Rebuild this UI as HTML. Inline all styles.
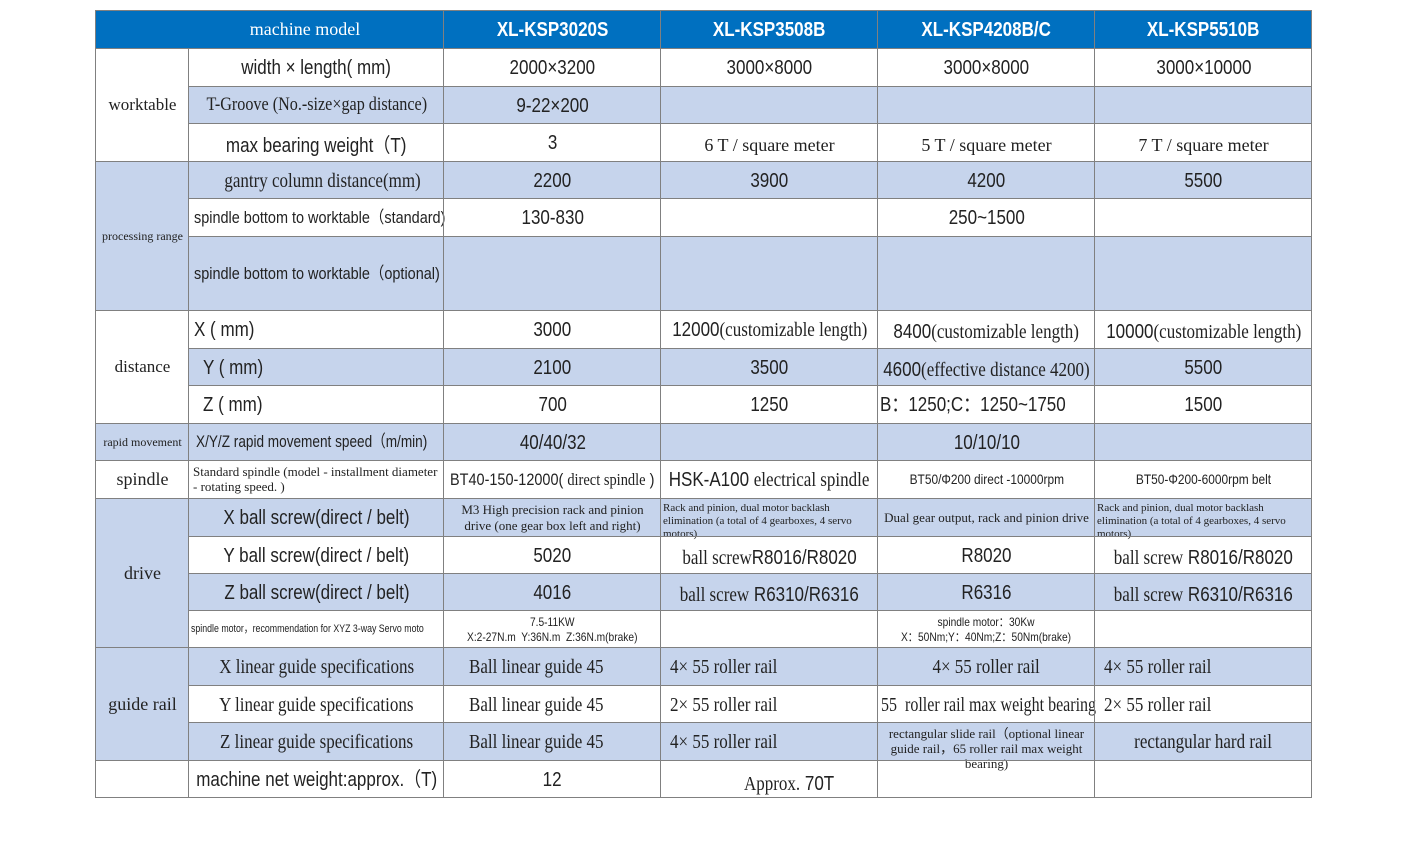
<!DOCTYPE html>
<html><head><meta charset="utf-8"><style>
body{margin:0;width:1407px;height:846px;background:#fff;position:relative;overflow:hidden}
.c{position:absolute;box-sizing:border-box;border-left:1px solid #808080;border-top:1px solid #808080;display:flex;align-items:center;justify-content:center;text-align:center;color:#222;font-family:"Liberation Sans Narrow","Liberation Sans",sans-serif;font-size:20px;line-height:1.1;white-space:nowrap;overflow:visible}
.s{font-family:"Liberation Serif",serif;font-size:17px}
.sm{font-size:13px;font-family:"Liberation Serif",serif;white-space:normal;line-height:1.2}
.b{background:#c6d4ec}
.h{background:#0070c0;color:#fff;font-weight:bold;font-size:20px}
.l{justify-content:flex-start;padding-left:5px}
.n{display:inline-block;transform:scaleX(.85)}
.o{position:absolute;left:95px;top:10px;width:1217px;height:788px;border-right:1px solid #808080;border-bottom:1px solid #808080;box-sizing:border-box;z-index:5}
</style></head><body>

<div class="c h s" style="left:95px;top:10px;width:349px;height:39px;font-weight:normal;font-size:18px;padding-left:70px">machine model</div>
<div class="c h" style="left:443px;top:10px;width:218px;height:39px"><span class="n">XL-KSP3020S</span></div>
<div class="c h" style="left:660px;top:10px;width:218px;height:39px"><span class="n">XL-KSP3508B</span></div>
<div class="c h" style="left:877px;top:10px;width:218px;height:39px"><span class="n">XL-KSP4208B/C</span></div>
<div class="c h" style="left:1094px;top:10px;width:218px;height:39px"><span class="n">XL-KSP5510B</span></div>

<div class="c s" style="left:95px;top:48px;width:94px;height:114px">worktable</div>
<div class="c b s" style="left:95px;top:161px;width:94px;height:150px;font-size:12px;padding-top:0">processing range</div>
<div class="c s" style="left:95px;top:310px;width:94px;height:114px">distance</div>
<div class="c b s" style="left:95px;top:423px;width:94px;height:38px;font-size:12px">rapid movement</div>
<div class="c s" style="left:95px;top:460px;width:94px;height:39px;font-size:18px">spindle</div>
<div class="c b s" style="left:95px;top:498px;width:94px;height:150px;font-size:18px">drive</div>
<div class="c b s" style="left:95px;top:647px;width:94px;height:114px;font-size:18px">guide rail</div>
<div class="c" style="left:95px;top:760px;width:94px;height:38px"></div>

<div class="c" style="left:188px;top:48px;width:256px;height:39px"><span class="n">width × length( mm)</span></div>
<div class="c" style="left:443px;top:48px;width:218px;height:39px"><span class="n">2000×3200</span></div>
<div class="c" style="left:660px;top:48px;width:218px;height:39px"><span class="n">3000×8000</span></div>
<div class="c" style="left:877px;top:48px;width:218px;height:39px"><span class="n">3000×8000</span></div>
<div class="c" style="left:1094px;top:48px;width:218px;height:39px"><span class="n">3000×10000</span></div>

<div class="c b s" style="left:188px;top:86px;width:256px;height:38px;font-size:19px"><span class="n">T-Groove (No.-size×gap distance)</span></div>
<div class="c b" style="left:443px;top:86px;width:218px;height:38px"><span class="n">9-22×200</span></div>
<div class="c b" style="left:660px;top:86px;width:218px;height:38px"></div>
<div class="c b" style="left:877px;top:86px;width:218px;height:38px"></div>
<div class="c b" style="left:1094px;top:86px;width:218px;height:38px"></div>

<div class="c" style="left:188px;top:123px;width:256px;height:39px;padding-top:6px"><span class="n">max bearing weight（T)</span></div>
<div class="c" style="left:443px;top:123px;width:218px;height:39px"><span class="n">3</span></div>
<div class="c s" style="left:660px;top:123px;width:218px;height:39px;padding-top:6px;font-size:18px">6 T / square meter</div>
<div class="c s" style="left:877px;top:123px;width:218px;height:39px;padding-top:6px;font-size:18px">5 T / square meter</div>
<div class="c s" style="left:1094px;top:123px;width:218px;height:39px;padding-top:6px;font-size:18px">7 T / square meter</div>

<div class="c b s" style="left:188px;top:161px;width:256px;height:38px;font-size:20px;padding-left:12px"><span class="n">gantry column distance(mm)</span></div>
<div class="c b" style="left:443px;top:161px;width:218px;height:38px"><span class="n">2200</span></div>
<div class="c b" style="left:660px;top:161px;width:218px;height:38px"><span class="n">3900</span></div>
<div class="c b" style="left:877px;top:161px;width:218px;height:38px"><span class="n">4200</span></div>
<div class="c b" style="left:1094px;top:161px;width:218px;height:38px"><span class="n">5500</span></div>

<div class="c l" style="left:188px;top:198px;width:256px;height:39px;font-size:17px"><span class="n" style="transform-origin:left">spindle bottom to worktable（standard)</span></div>
<div class="c" style="left:443px;top:198px;width:218px;height:39px"><span class="n">130-830</span></div>
<div class="c" style="left:660px;top:198px;width:218px;height:39px"></div>
<div class="c" style="left:877px;top:198px;width:218px;height:39px"><span class="n">250~1500</span></div>
<div class="c" style="left:1094px;top:198px;width:218px;height:39px"></div>

<div class="c b l" style="left:188px;top:236px;width:256px;height:75px;font-size:17px"><span class="n" style="transform-origin:left">spindle bottom to worktable（optional)</span></div>
<div class="c b" style="left:443px;top:236px;width:218px;height:75px"></div>
<div class="c b" style="left:660px;top:236px;width:218px;height:75px"></div>
<div class="c b" style="left:877px;top:236px;width:218px;height:75px"></div>
<div class="c b" style="left:1094px;top:236px;width:218px;height:75px"></div>

<div class="c l" style="left:188px;top:310px;width:256px;height:39px"><span class="n" style="transform-origin:left">X ( mm)</span></div>
<div class="c" style="left:443px;top:310px;width:218px;height:39px"><span class="n">3000</span></div>
<div class="c" style="left:660px;top:310px;width:218px;height:39px"><span class="n">12000<span style="font-family:'Liberation Serif',serif">(customizable length)</span></span></div>
<div class="c" style="left:877px;top:310px;width:218px;height:39px;padding-top:4px"><span class="n">8400<span style="font-family:'Liberation Serif',serif">(customizable length)</span></span></div>
<div class="c" style="left:1094px;top:310px;width:218px;height:39px;padding-top:4px"><span class="n">10000<span style="font-family:'Liberation Serif',serif">(customizable length)</span></span></div>

<div class="c b l" style="left:188px;top:348px;width:256px;height:38px;padding-left:14px"><span class="n" style="transform-origin:left">Y ( mm)</span></div>
<div class="c b" style="left:443px;top:348px;width:218px;height:38px"><span class="n">2100</span></div>
<div class="c b" style="left:660px;top:348px;width:218px;height:38px"><span class="n">3500</span></div>
<div class="c b" style="left:877px;top:348px;width:218px;height:38px;padding-top:4px"><span class="n">4600<span style="font-family:'Liberation Serif',serif">(effective distance 4200)</span></span></div>
<div class="c b" style="left:1094px;top:348px;width:218px;height:38px"><span class="n">5500</span></div>

<div class="c l" style="left:188px;top:385px;width:256px;height:39px;padding-left:14px"><span class="n" style="transform-origin:left">Z ( mm)</span></div>
<div class="c" style="left:443px;top:385px;width:218px;height:39px"><span class="n">700</span></div>
<div class="c" style="left:660px;top:385px;width:218px;height:39px"><span class="n">1250</span></div>
<div class="c l" style="left:877px;top:385px;width:218px;height:39px;padding-left:2px"><span class="n" style="transform-origin:left">B：1250;C：1250~1750</span></div>
<div class="c" style="left:1094px;top:385px;width:218px;height:39px"><span class="n">1500</span></div>

<div class="c b l" style="left:188px;top:423px;width:256px;height:38px;font-size:17px;padding-left:7px"><span class="n" style="transform-origin:left;transform:scaleX(.8)">X/Y/Z rapid movement speed（m/min)</span></div>
<div class="c b" style="left:443px;top:423px;width:218px;height:38px"><span class="n">40/40/32</span></div>
<div class="c b" style="left:660px;top:423px;width:218px;height:38px"></div>
<div class="c b" style="left:877px;top:423px;width:218px;height:38px"><span class="n">10/10/10</span></div>
<div class="c b" style="left:1094px;top:423px;width:218px;height:38px"></div>

<div class="c sm l" style="left:188px;top:460px;width:256px;height:39px;text-align:left;line-height:1.15;padding-left:4px">Standard spindle (model - installment diameter - rotating speed. )</div>
<div class="c" style="left:443px;top:460px;width:218px;height:39px;font-size:17px"><span class="n">BT40-150-12000( <span style="font-family:'Liberation Serif',serif">direct spindle</span> )</span></div>
<div class="c" style="left:660px;top:460px;width:218px;height:39px"><span class="n">HSK-A100 <span style="font-family:'Liberation Serif',serif">electrical spindle</span></span></div>
<div class="c" style="left:877px;top:460px;width:218px;height:39px;font-size:14px"><span class="n">BT50/Φ200 direct -10000rpm</span></div>
<div class="c" style="left:1094px;top:460px;width:218px;height:39px;font-size:14px"><span class="n">BT50-Φ200-6000rpm belt</span></div>

<div class="c b" style="left:188px;top:498px;width:256px;height:39px"><span class="n">X ball screw(direct / belt)</span></div>
<div class="c b sm" style="left:443px;top:498px;width:218px;height:39px;padding:0 6px">M3 High precision rack and pinion drive (one gear box left and right)</div>
<div class="c b sm" style="left:660px;top:498px;width:218px;height:39px;font-size:11px;text-align:left;align-items:flex-start;padding:3px 2px 0">Rack and pinion, dual motor backlash elimination (a total of 4 gearboxes, 4 servo motors)</div>
<div class="c b sm" style="left:877px;top:498px;width:218px;height:39px">Dual gear output, rack and pinion drive</div>
<div class="c b sm" style="left:1094px;top:498px;width:218px;height:39px;font-size:11px;text-align:left;align-items:flex-start;padding:3px 2px 0">Rack and pinion, dual motor backlash elimination (a total of 4 gearboxes, 4 servo motors)</div>

<div class="c" style="left:188px;top:536px;width:256px;height:38px"><span class="n">Y ball screw(direct / belt)</span></div>
<div class="c" style="left:443px;top:536px;width:218px;height:38px"><span class="n">5020</span></div>
<div class="c" style="left:660px;top:536px;width:218px;height:38px;padding-top:4px"><span class="n"><span style="font-family:'Liberation Serif',serif">ball screw</span>R8016/R8020</span></div>
<div class="c" style="left:877px;top:536px;width:218px;height:38px"><span class="n">R8020</span></div>
<div class="c" style="left:1094px;top:536px;width:218px;height:38px;padding-top:4px"><span class="n"><span style="font-family:'Liberation Serif',serif">ball screw</span> R8016/R8020</span></div>

<div class="c b" style="left:188px;top:573px;width:256px;height:38px"><span class="n">Z ball screw(direct / belt)</span></div>
<div class="c b" style="left:443px;top:573px;width:218px;height:38px"><span class="n">4016</span></div>
<div class="c b" style="left:660px;top:573px;width:218px;height:38px;padding-top:4px"><span class="n"><span style="font-family:'Liberation Serif',serif">ball screw</span> R6310/R6316</span></div>
<div class="c b" style="left:877px;top:573px;width:218px;height:38px"><span class="n">R6316</span></div>
<div class="c b" style="left:1094px;top:573px;width:218px;height:38px;padding-top:4px"><span class="n"><span style="font-family:'Liberation Serif',serif">ball screw</span> R6310/R6316</span></div>

<div class="c l" style="left:188px;top:610px;width:256px;height:38px;font-size:11px;padding-left:2px"><span class="n" style="transform-origin:left;transform:scaleX(.8)">spindle motor，recommendation for XYZ 3-way Servo moto</span></div>
<div class="c" style="left:443px;top:610px;width:218px;height:38px;font-size:12px;line-height:1.2"><span class="n">7.5-11KW<br>X:2-27N.m&nbsp; Y:36N.m&nbsp; Z:36N.m(brake)</span></div>
<div class="c" style="left:660px;top:610px;width:218px;height:38px"></div>
<div class="c" style="left:877px;top:610px;width:218px;height:38px;font-size:12px;line-height:1.2"><span class="n">spindle motor：30Kw<br>X：50Nm;Y：40Nm;Z：50Nm(brake)</span></div>
<div class="c" style="left:1094px;top:610px;width:218px;height:38px"></div>

<div class="c b s" style="left:188px;top:647px;width:256px;height:39px;font-size:20px"><span class="n">X linear guide specifications</span></div>
<div class="c b s l" style="left:443px;top:647px;width:218px;height:39px;font-size:20px;padding-left:25px"><span class="n" style="transform-origin:left">Ball linear guide 45</span></div>
<div class="c b s l" style="left:660px;top:647px;width:218px;height:39px;font-size:20px;padding-left:9px"><span class="n" style="transform-origin:left">4× 55 roller rail</span></div>
<div class="c b s" style="left:877px;top:647px;width:218px;height:39px;font-size:20px"><span class="n">4× 55 roller rail</span></div>
<div class="c b s l" style="left:1094px;top:647px;width:218px;height:39px;font-size:20px;padding-left:9px"><span class="n" style="transform-origin:left">4× 55 roller rail</span></div>

<div class="c s" style="left:188px;top:685px;width:256px;height:38px;font-size:20px"><span class="n">Y linear guide specifications</span></div>
<div class="c s l" style="left:443px;top:685px;width:218px;height:38px;font-size:20px;padding-left:25px"><span class="n" style="transform-origin:left">Ball linear guide 45</span></div>
<div class="c s l" style="left:660px;top:685px;width:218px;height:38px;font-size:20px;padding-left:9px"><span class="n" style="transform-origin:left">2× 55 roller rail</span></div>
<div class="c s l" style="left:877px;top:685px;width:218px;height:38px;font-size:20px;padding-left:3px"><span class="n" style="transform-origin:left;transform:scaleX(.8)">55&nbsp; roller rail max weight bearing</span></div>
<div class="c s l" style="left:1094px;top:685px;width:218px;height:38px;font-size:20px;padding-left:9px"><span class="n" style="transform-origin:left">2× 55 roller rail</span></div>

<div class="c b s" style="left:188px;top:722px;width:256px;height:39px;font-size:20px"><span class="n">Z linear guide specifications</span></div>
<div class="c b s l" style="left:443px;top:722px;width:218px;height:39px;font-size:20px;padding-left:25px"><span class="n" style="transform-origin:left">Ball linear guide 45</span></div>
<div class="c b s l" style="left:660px;top:722px;width:218px;height:39px;font-size:20px;padding-left:9px"><span class="n" style="transform-origin:left">4× 55 roller rail</span></div>
<div class="c b sm" style="left:877px;top:722px;width:218px;height:39px;align-items:flex-start;padding:4px 4px 0;line-height:1.15">rectangular slide rail（optional linear guide rail，65 roller rail max weight bearing)</div>
<div class="c b s" style="left:1094px;top:722px;width:218px;height:39px;font-size:20px"><span class="n">rectangular hard rail</span></div>

<div class="c" style="left:188px;top:760px;width:256px;height:38px"><span class="n">machine net weight:approx.（T)</span></div>
<div class="c" style="left:443px;top:760px;width:218px;height:38px"><span class="n">12</span></div>
<div class="c" style="left:660px;top:760px;width:218px;height:38px;padding-top:8px;padding-left:40px"><span class="n"><span style="font-family:'Liberation Serif',serif">Approx.</span> 70T</span></div>
<div class="c" style="left:877px;top:760px;width:218px;height:38px"></div>
<div class="c" style="left:1094px;top:760px;width:218px;height:38px"></div>
<div class="o"></div>
</body></html>
